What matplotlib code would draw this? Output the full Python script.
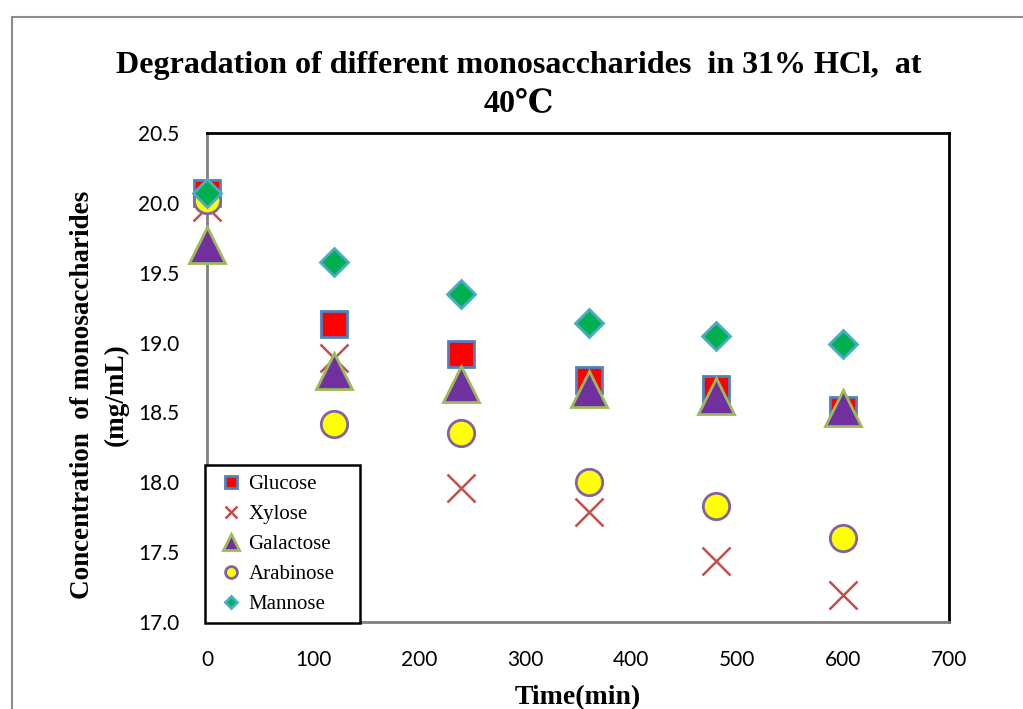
import matplotlib.pyplot as plt
from matplotlib.patches import Rectangle

# time points (min)
time = [0, 120, 240, 360, 480, 600]

glucose = [20.07, 19.13, 18.92, 18.73, 18.67, 18.52]
xylose = [19.97, 18.89, 17.96, 17.79, 17.44, 17.19]
galactose = [19.70, 18.80, 18.70, 18.67, 18.62, 18.53]
arabinose = [20.02, 18.42, 18.35, 18.00, 17.83, 17.60]
mannose = [20.07, 19.58, 19.35, 19.14, 19.05, 18.99]

yticks = [17.0, 17.5, 18.0, 18.5, 19.0, 19.5, 20.0, 20.5]
xticks = [0, 100, 200, 300, 400, 500, 600, 700]

serif = 'Liberation Serif'
tickfont = 'Lato'

fig = plt.figure(figsize=(10.23, 7.09), dpi=100)
ax = fig.add_axes([0.2023, 0.1227, 0.7254, 0.6897])

# outer chart border (cut off on the right and bottom)
fig.add_artist(Rectangle((12/1023, -0.1), 1.2, 1 - 17/709 + 0.1,
                         transform=fig.transFigure, fill=False,
                         edgecolor='#8c8c8c', linewidth=1.5))

ax.plot(time, glucose, 's', ms=19, mfc='#FF0000', mec='#4F81BD', mew=2, label='Glucose', zorder=3, clip_on=False)
ax.plot(time, xylose, 'x', ms=20, mec='#C0504D', mew=1.8, label='Xylose', zorder=3, clip_on=False)
ax.plot(time, galactose, '^', ms=26, mfc='#7030A0', mec='#9BBB59', mew=2, label='Galactose', zorder=4, clip_on=False)
ax.plot(time, arabinose, 'o', ms=19, mfc='#FFFF00', mec='#8064A2', mew=2, label='Arabinose', zorder=3, clip_on=False)
ax.plot(time, mannose, 'D', ms=14.5, mfc='#00B050', mec='#4BACC6', mew=2, label='Mannose', zorder=5, clip_on=False)

ax.set_xlim(0, 700)
ax.set_ylim(17.0, 20.5)
ax.set_xticks(xticks)
ax.set_yticks(yticks)
ax.set_yticklabels(['%.1f' % v for v in yticks])
ax.tick_params(length=0, labelsize=15, pad=20)
for lab in ax.get_xticklabels() + ax.get_yticklabels():
    lab.set_fontfamily(tickfont)

ax.spines['left'].set_color('#808080')
ax.spines['bottom'].set_color('#808080')
ax.spines['top'].set_color('black')
ax.spines['right'].set_color('black')
for s in ax.spines.values():
    s.set_linewidth(2)

fig.text(0.507, 0.908, 'Degradation of different monosaccharides  in 31% HCl,  at',
         ha='center', va='center', fontsize=23, fontweight='bold', family=serif)
fig.text(0.507, 0.854, '40\u2103', ha='center', va='center', fontsize=23,
         fontweight='bold', family=[serif, 'DejaVu Serif'])

fig.text(0.097, 0.443, 'Concentration  of monosaccharides\n(mg/mL)', rotation=90,
         ha='center', va='center', multialignment='center', fontsize=19.5,
         fontweight='bold', family=serif, linespacing=1.45)
ax.set_xlabel('Time(min)', fontsize=20, fontweight='bold', family=serif, labelpad=11)

leg = ax.legend(loc='lower left', bbox_to_anchor=(-0.003, -0.003, 0.209, 0.3), mode='expand',
                prop={'family': serif, 'size': 15},
                markerscale=0.45, handletextpad=0.05, handlelength=1.6,
                fancybox=False, edgecolor='black', framealpha=1,
                borderpad=0.45, labelspacing=0.5, borderaxespad=0)
leg.get_frame().set_linewidth(1.8)
leg.set_zorder(10)

fig.savefig('out.png', dpi=100)
